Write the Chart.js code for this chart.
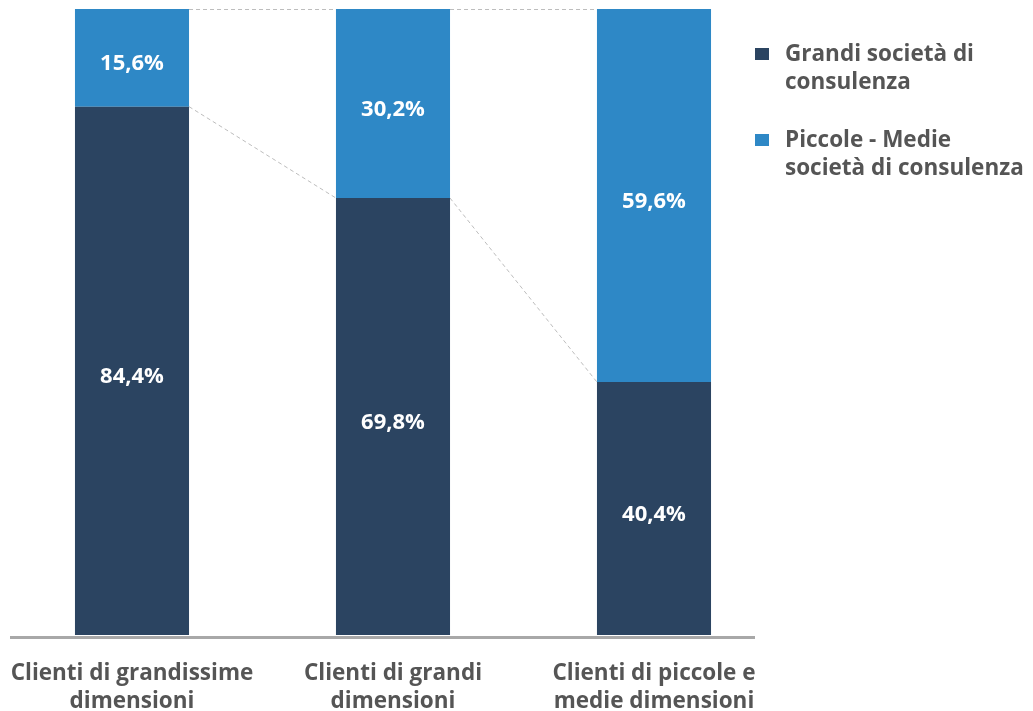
<!DOCTYPE html>
<html lang="it">
<head>
<meta charset="utf-8">
<title>Clienti per dimensione e società di consulenza</title>
<script src="https://cdn.jsdelivr.net/npm/chart.js@4/dist/chart.umd.min.js"></script>
<style>
  html,body{margin:0;padding:0;background:#fff;}
  #wrap{position:relative;width:1033px;height:711px;}
  canvas{position:absolute;left:0;top:0;}
  .legend{position:absolute;left:755px;top:39px;font-family:"Open Sans",sans-serif;font-weight:700;font-size:22.5px;line-height:28px;color:#555;white-space:nowrap;}
  .legend .item{position:relative;padding-left:30px;margin-bottom:30px;}
  .legend .sw{position:absolute;left:0;top:9px;width:14px;height:12px;}
</style>
</head>
<body>
<div id="wrap">
  <canvas id="chart" width="1033" height="711"></canvas>
  <div class="legend" id="legend"></div>
</div>
<script>
(function(){
  // categories and shares (%)
  const categories = [
    ['Clienti di grandissime', 'dimensioni'],
    ['Clienti di grandi', 'dimensioni'],
    ['Clienti di piccole e', 'medie dimensioni']
  ];
  const grandi = [84.4, 69.8, 40.4];
  const piccole = [15.6, 30.2, 59.6];
  const seriesNames = ['Grandi società di consulenza', 'Piccole - Medie società di consulenza'];
  const legendLines = [['Grandi società di', 'consulenza'], ['Piccole - Medie', 'società di consulenza']];
  const colors = ['#2b4461', '#2e88c6'];

  const FONT = '"Open Sans", sans-serif';

  // legend on the right
  const leg = document.getElementById('legend');
  legendLines.forEach((lines, i)=>{
    const it = document.createElement('div');
    it.className = 'item';
    it.innerHTML = `<span class="sw" style="background:${colors[i]}"></span>${lines.join('<br>')}`;
    leg.appendChild(it);
  });

  const fmt = v => v.toFixed(1).replace('.', ',') + '%';

  // white percentage inside every segment
  const segLabels = {
    id: 'segLabels',
    afterDatasetsDraw(chart){
      const c = chart.ctx;
      c.save();
      c.fillStyle = '#fff';
      c.font = `700 22px ${FONT}`;
      c.textAlign = 'center';
      c.textBaseline = 'middle';
      chart.data.datasets.forEach((ds, di)=>{
        chart.getDatasetMeta(di).data.forEach((bar, i)=>{
          const mid = (bar.y + bar.base) / 2;
          c.fillText(fmt(ds.data[i]), bar.x, mid + 6);
        });
      });
      c.restore();
    }
  };

  // dashed connectors between bars + base line
  const connectors = {
    id: 'connectors',
    beforeDatasetsDraw(chart){
      const c = chart.ctx;
      const dark = chart.getDatasetMeta(0).data;
      const light = chart.getDatasetMeta(1).data;
      c.save();
      c.strokeStyle = '#bdbdbd';
      c.lineWidth = 1;
      c.setLineDash([4, 3]);
      for(let i = 0; i < dark.length - 1; i++){
        const a = dark[i], b = dark[i+1];
        c.beginPath();
        c.moveTo(a.x + a.width/2, a.y);
        c.lineTo(b.x - b.width/2, b.y);
        c.stroke();
        const p = light[i], q = light[i+1];
        c.beginPath();
        c.moveTo(p.x + p.width/2, p.y + 0.5);
        c.lineTo(q.x - q.width/2, q.y + 0.5);
        c.stroke();
      }
      c.restore();
    },
    afterDatasetsDraw(chart){
      const c = chart.ctx;
      const y = chart.scales.y.getPixelForValue(0) + 2.5;
      c.save();
      c.strokeStyle = '#a8a8a8';
      c.lineWidth = 3;
      c.beginPath();
      c.moveTo(10, y);
      c.lineTo(755, y);
      c.stroke();
      c.restore();
    }
  };

  new Chart(document.getElementById('chart'), {
    type: 'bar',
    data: {
      labels: categories,
      datasets: [
        { label: seriesNames[0], data: grandi, backgroundColor: colors[0] },
        { label: seriesNames[1], data: piccole, backgroundColor: colors[1] }
      ]
    },
    options: {
      responsive: false,
      animation: false,
      layout: { padding: { left: 1.5, right: 248.5, top: 9, bottom: 0 } },
      datasets: { bar: { categoryPercentage: 1, barPercentage: 0.437 } },
      plugins: { legend: { display: false }, tooltip: { enabled: false } },
      scales: {
        x: {
          stacked: true,
          grid: { display: false, drawTicks: false },
          border: { display: false },
          ticks: { color: '#555', padding: 25, maxRotation: 0, font: { family: FONT, weight: '700', size: 22.5, lineHeight: 1.22 } },
          // labels may overhang the plot; keep the plot width fixed
          afterFit: s => { s.height = 76; s.paddingLeft = 0; s.paddingRight = 0; }
        },
        y: { stacked: true, display: false, min: 0, max: 100 }
      }
    },
    plugins: [connectors, segLabels]
  });
})();
</script>
</body>
</html>
